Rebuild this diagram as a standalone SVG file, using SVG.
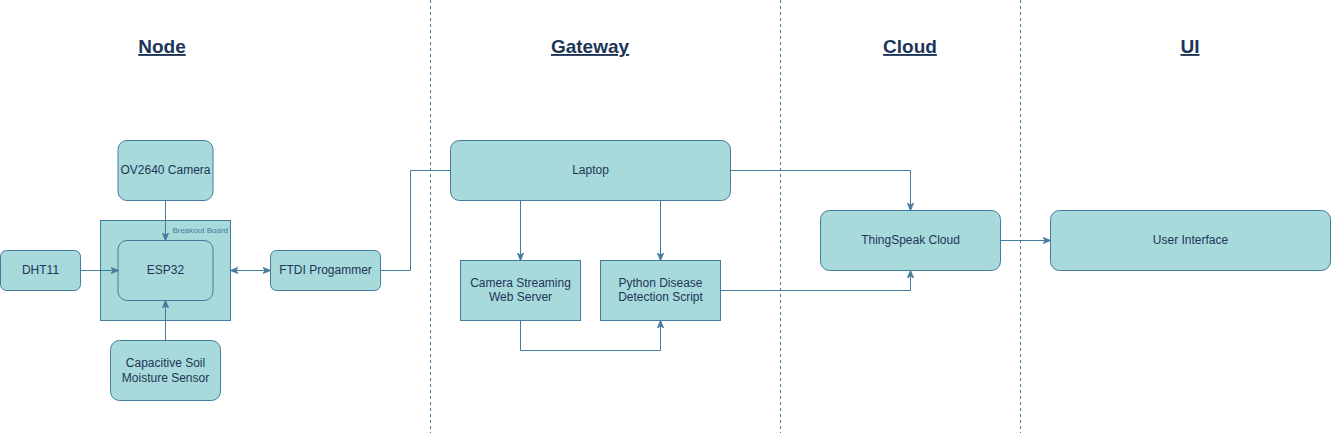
<svg xmlns="http://www.w3.org/2000/svg" width="1331" height="433" viewBox="0 0 1331 433">
<style>
.box{fill:#A8DADC;stroke:#457B9D;stroke-width:1}
.lbl{font-family:"Liberation Sans",Arial,sans-serif;font-size:12px;fill:#1D3557;text-anchor:middle;dominant-baseline:central}
.hdr{font-family:"Liberation Sans",Arial,sans-serif;font-size:19px;font-weight:bold;fill:#1D3557;text-anchor:middle;text-decoration:underline}
.edge{fill:none;stroke:#457B9D;stroke-width:1}
.lane{stroke:#457B9D;stroke-width:1;stroke-dasharray:3 3}
</style>
<defs>
<marker id="arr" viewBox="0 0 10 10" refX="9" refY="5" markerWidth="8" markerHeight="8" markerUnits="userSpaceOnUse" orient="auto-start-reverse">
<path d="M0,1 L10,5 L0,9 L3,5 Z" fill="#457B9D" stroke="#457B9D"/>
</marker>
</defs>
<rect width="1331" height="433" fill="#ffffff"/>
<g id="lanes">
<line class="lane" x1="430.5" y1="0" x2="430.5" y2="433"/>
<line class="lane" x1="780.5" y1="0" x2="780.5" y2="433"/>
<line class="lane" x1="1020.5" y1="0" x2="1020.5" y2="433"/>
</g>
<g id="headers">
<text class="hdr" x="162" y="53">Node</text>
<text class="hdr" x="590" y="53">Gateway</text>
<text class="hdr" x="910" y="53">Cloud</text>
<text class="hdr" x="1190" y="53">UI</text>
</g>
<g id="breakout">
<rect class="box" x="100.5" y="220.5" width="130" height="100"/>
<text x="228" y="230" font-family="'Liberation Sans',Arial,sans-serif" font-size="8" fill="#457B9D" text-anchor="end" dominant-baseline="central">Breakout Board</text>
</g>
<g id="camera"><rect class="box" x="118" y="140.5" width="95" height="60" rx="9"/><text class="lbl" x="165.5" y="170">OV2640 Camera</text></g>
<g id="esp32"><rect class="box" x="118" y="240.5" width="95" height="60" rx="9"/><text class="lbl" x="165.5" y="270">ESP32</text></g>
<g id="dht11"><rect class="box" x="0.5" y="250.5" width="80" height="40" rx="6"/><text class="lbl" x="40.5" y="270">DHT11</text></g>
<g id="ftdi"><rect class="box" x="270.5" y="250.5" width="110" height="40" rx="6"/><text class="lbl" x="325.5" y="270">FTDI Progammer</text></g>
<g id="soil"><rect class="box" x="110.5" y="340.5" width="110" height="60" rx="9"/><text class="lbl" x="165.5" y="362.5">Capacitive Soil</text><text class="lbl" x="165.5" y="377.5">Moisture Sensor</text></g>
<g id="laptop"><rect class="box" x="450.5" y="140.5" width="280" height="60" rx="9"/><text class="lbl" x="590.5" y="170">Laptop</text></g>
<g id="streaming"><rect class="box" x="460.5" y="260.5" width="120" height="60"/><text class="lbl" x="520.5" y="283">Camera Streaming</text><text class="lbl" x="520.5" y="297">Web Server</text></g>
<g id="python"><rect class="box" x="600.5" y="260.5" width="120" height="60"/><text class="lbl" x="660.5" y="283">Python Disease</text><text class="lbl" x="660.5" y="297">Detection Script</text></g>
<g id="thingspeak"><rect class="box" x="820.5" y="210.5" width="180" height="60" rx="9"/><text class="lbl" x="910.5" y="240">ThingSpeak Cloud</text></g>
<g id="ui"><rect class="box" x="1050.5" y="210.5" width="280" height="60" rx="9"/><text class="lbl" x="1190.5" y="240">User Interface</text></g>
<g id="connectors">
<path class="edge" d="M165.5,200.5 V240" marker-end="url(#arr)"/>
<path class="edge" d="M80.5,270.5 H118" marker-end="url(#arr)"/>
<path class="edge" d="M165.5,340.5 V301" marker-end="url(#arr)"/>
<path class="edge" d="M231,270.5 H270" marker-start="url(#arr)" marker-end="url(#arr)"/>
<path class="edge" d="M380.5,270.5 H410.5 V170.5 H450.5"/>
<path class="edge" d="M520.5,200.5 V260" marker-end="url(#arr)"/>
<path class="edge" d="M660.5,200.5 V260" marker-end="url(#arr)"/>
<path class="edge" d="M520.5,320.5 V350.5 H660.5 V321" marker-end="url(#arr)"/>
<path class="edge" d="M730.5,170.5 H910.5 V210" marker-end="url(#arr)"/>
<path class="edge" d="M720.5,290.5 H910.5 V271" marker-end="url(#arr)"/>
<path class="edge" d="M1000.5,240.5 H1050" marker-end="url(#arr)"/>
</g>
</svg>
